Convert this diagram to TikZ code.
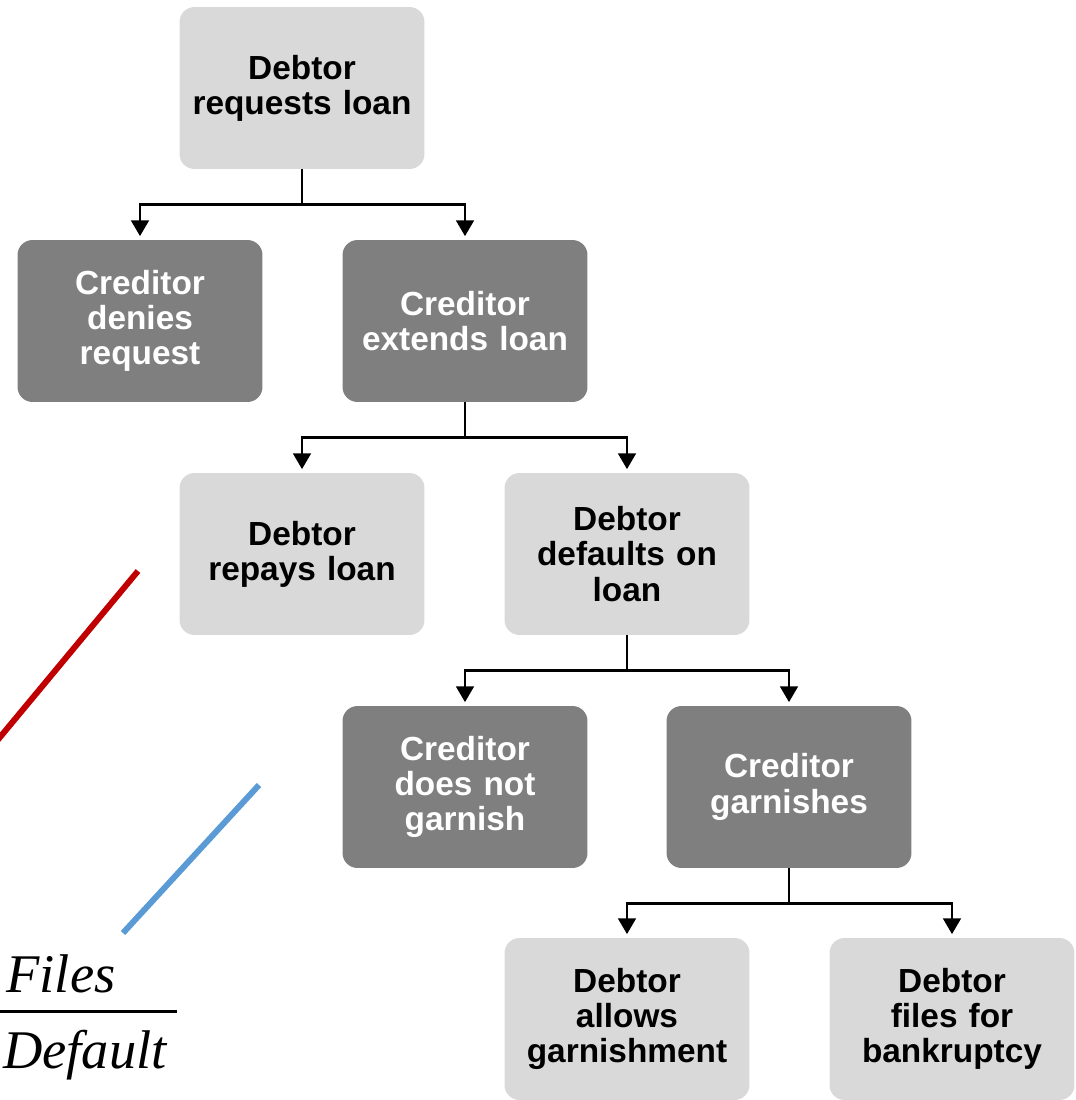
\documentclass[tikz,border=0pt]{standalone}
\usepackage{fontspec}
\setmainfont{Liberation Sans}
\newfontfamily\fracfont{Liberation Serif}
\usetikzlibrary{arrows.meta}

\definecolor{lightbox}{HTML}{D9D9D9}
\definecolor{darkbox}{HTML}{7F7F7F}
\definecolor{redline}{HTML}{C00000}
\definecolor{blueline}{HTML}{5B9BD5}

\begin{document}
\begin{tikzpicture}[
    x=0.02cm, y=-0.02cm,
    box/.style={rectangle, text width=4.7cm, inner xsep=0.1cm, align=center, minimum height=3.24cm, rounded corners=0.3cm, font=\fontsize{19}{20}\selectfont\bfseries},
    light/.style={box, fill=lightbox, text=black},
    dark/.style={box, fill=darkbox, text=white},
    arrow/.style={-{Triangle[width=10pt,length=9pt]}, line width=1.7pt, shorten >=2pt},
    slash/.style={line width=3.4pt}
]
\useasboundingbox (0,0) rectangle (1076,1100);

% Request
\node[light] (req) at (302,88) {Debtor\\requests loan};

% Creditor decision
\node[dark] (deny) at (140,321) {Creditor\\denies\\request};
\node[dark] (extend) at (465,321) {Creditor\\extends loan};

% Debtor decision
\node[light] (repay) at (302,554) {Debtor\\repays loan};
\node[light] (defaults) at (627,554) {Debtor\\defaults on\\loan};

% Garnish decision
\node[dark] (nogarn) at (465,787) {Creditor\\does not\\garnish};
\node[dark] (garn) at (789,787) {Creditor\\garnishes};

% Debtor response
\node[light] (allow) at (627,1019) {Debtor\\allows\\garnishment};
\node[light] (bankr) at (952,1019) {Debtor\\files for\\bankruptcy};

% Arrows
\draw[arrow] (req.south) -- ++(0,35) -| (deny.north);
\draw[arrow] (req.south) -- ++(0,35) -| (extend.north);
\draw[arrow] (extend.south) -- ++(0,35) -| (repay.north);
\draw[arrow] (extend.south) -- ++(0,35) -| (defaults.north);
\draw[arrow] (defaults.south) -- ++(0,35) -| (nogarn.north);
\draw[arrow] (defaults.south) -- ++(0,35) -| (garn.north);
\draw[arrow] (garn.south) -- ++(0,35) -| (allow.north);
\draw[arrow] (garn.south) -- ++(0,35) -| (bankr.north);

% Strokes
\draw[slash, redline] (138,571) -- (-4,742);
\draw[slash, blueline] (259,785) -- (123,933);

% Fraction
\node[anchor=base, font=\fracfont\itshape\fontsize{31}{31}\selectfont] (files) at (61,992) {Files};
\node[anchor=base, font=\fracfont\itshape\fontsize{31}{31}\selectfont] (dflt) at (85,1068) {Default};
\draw[line width=1.7pt] (0,1011) -- (177,1011);

\end{tikzpicture}
\end{document}
